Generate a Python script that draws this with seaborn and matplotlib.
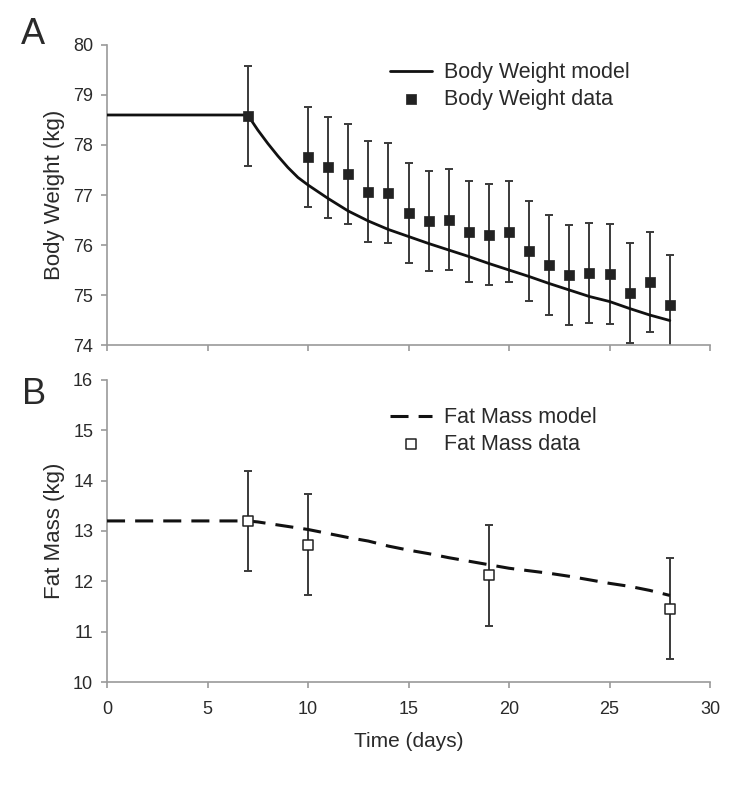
import matplotlib
matplotlib.use('Agg')
import matplotlib.pyplot as plt
import seaborn as sns

# ------------------------------------------------------------
# data
# ------------------------------------------------------------
model_days = [0, 7, 7.5, 8, 8.5, 9, 9.5, 10, 11, 12, 13, 14, 15, 16, 17, 18, 19, 20,
              21, 22, 23, 24, 25, 26, 27, 28]
bw_model = [78.6, 78.6, 78.3, 78.03, 77.78, 77.55, 77.35, 77.2, 76.93, 76.68, 76.48,
            76.31, 76.17, 76.03, 75.9, 75.77, 75.63, 75.5, 75.37, 75.23, 75.1, 74.97,
            74.87, 74.73, 74.6, 74.49]
fm_model = [13.2, 13.2, 13.18, 13.15, 13.12, 13.09, 13.06, 13.03, 12.95, 12.87, 12.8,
            12.7, 12.62, 12.55, 12.47, 12.4, 12.33, 12.26, 12.21, 12.16, 12.1, 12.03,
            11.96, 11.9, 11.82, 11.72]

bw_days = [7, 10, 11, 12, 13, 14, 15, 16, 17, 18, 19, 20, 21, 22, 23, 24,
           25, 26, 27, 28]
bw_data = [78.58, 77.76, 77.55, 77.42, 77.07, 77.04, 76.64, 76.48, 76.51, 76.27,
           76.21, 76.27, 75.89, 75.6, 75.41, 75.44, 75.42, 75.04, 75.26, 74.8]
bw_err = [1.0] * len(bw_days)

fm_days = [7, 10, 19, 28]
fm_data = [13.2, 12.73, 12.12, 11.46]
fm_err = [1.0, 1.0, 1.0, 1.0]

x_ticks = [0, 5, 10, 15, 20, 25, 30]

# ------------------------------------------------------------
# style
# ------------------------------------------------------------
sns.set_theme(style='white')
plt.rcParams['font.family'] = ['Liberation Sans', 'DejaVu Sans']
text_col = '#2a2a2a'
spine_col = '#9a9a9a'

fig = plt.figure(figsize=(7.5, 7.89), dpi=100)
axA = fig.add_axes([0.1427, 0.5627, 0.804, 0.3803])
axB = fig.add_axes([0.1427, 0.1356, 0.804, 0.3828])


def style_axis(ax, ylim, yticks, ylabel):
    ax.set_xlim(0, 30)
    ax.set_ylim(*ylim)
    ax.set_xticks(x_ticks)
    ax.set_yticks(yticks)
    for side in ['top', 'right']:
        ax.spines[side].set_visible(False)
    for side in ['left', 'bottom']:
        ax.spines[side].set_color(spine_col)
        ax.spines[side].set_linewidth(1.2)
    ax.tick_params(axis='both', which='major', direction='out', length=4,
                   width=1.2, color=spine_col, labelsize=13, labelcolor=text_col,
                   left=True, bottom=True)
    ax.tick_params(axis='y', pad=6)
    ax.tick_params(axis='x', pad=10)
    ax.set_ylabel(ylabel, fontsize=16, color=text_col, labelpad=6)
    ax.set_xlabel('')


# ------------------------------------------------------------
# A: body weight
# ------------------------------------------------------------
axA.errorbar(bw_days, bw_data, yerr=bw_err, fmt='none', ecolor='#3a3a3a',
             elinewidth=1.4, capsize=3.2, capthick=1.4, zorder=2)
sns.lineplot(x=model_days, y=bw_model, ax=axA, color='#111111', linewidth=2.0,
             label='Body Weight model', zorder=3)
sns.scatterplot(x=bw_days, y=bw_data, ax=axA, marker='s', s=56, color='#222222',
                edgecolor='#222222', linewidth=0.5, label='Body Weight data', zorder=4)
style_axis(axA, (74, 80), [74, 75, 76, 77, 78, 79, 80], 'Body Weight (kg)')
axA.set_xticklabels([])
axA.legend(loc='upper left', bbox_to_anchor=(0.469, 0.942), frameon=False,
           fontsize=15.5, handlelength=1.95, handletextpad=0.55,
           labelspacing=0.25, borderpad=0, borderaxespad=0, labelcolor=text_col)

# ------------------------------------------------------------
# B: fat mass
# ------------------------------------------------------------
axB.errorbar(fm_days, fm_data, yerr=fm_err, fmt='none', ecolor='#3a3a3a',
             elinewidth=1.4, capsize=3.2, capthick=1.4, zorder=2)
sns.lineplot(x=model_days, y=fm_model, ax=axB, color='#111111', linewidth=2.2,
             linestyle=(0, (5.9, 3.3)), label='Fat Mass model', zorder=3)
sns.scatterplot(x=fm_days, y=fm_data, ax=axB, marker='s', s=46, color='white',
                edgecolor='#222222', linewidth=1.1, label='Fat Mass data', zorder=4)
style_axis(axB, (10, 16), [10, 11, 12, 13, 14, 15, 16], 'Fat Mass (kg)')
axB.set_xlabel('Time (days)', fontsize=15, color=text_col, labelpad=10)
axB.legend(loc='upper left', bbox_to_anchor=(0.469, 0.91), frameon=False,
           fontsize=15.5, handlelength=1.95, handletextpad=0.55,
           labelspacing=0.25, borderpad=0, borderaxespad=0, labelcolor=text_col)

# panel letters
fig.text(33 / 750, 1 - 35 / 789, 'A', fontsize=26, color=text_col,
         ha='center', va='center')
fig.text(34 / 750, 1 - 394 / 789, 'B', fontsize=26, color=text_col,
         ha='center', va='center')

fig.savefig('out.png', dpi=100)
